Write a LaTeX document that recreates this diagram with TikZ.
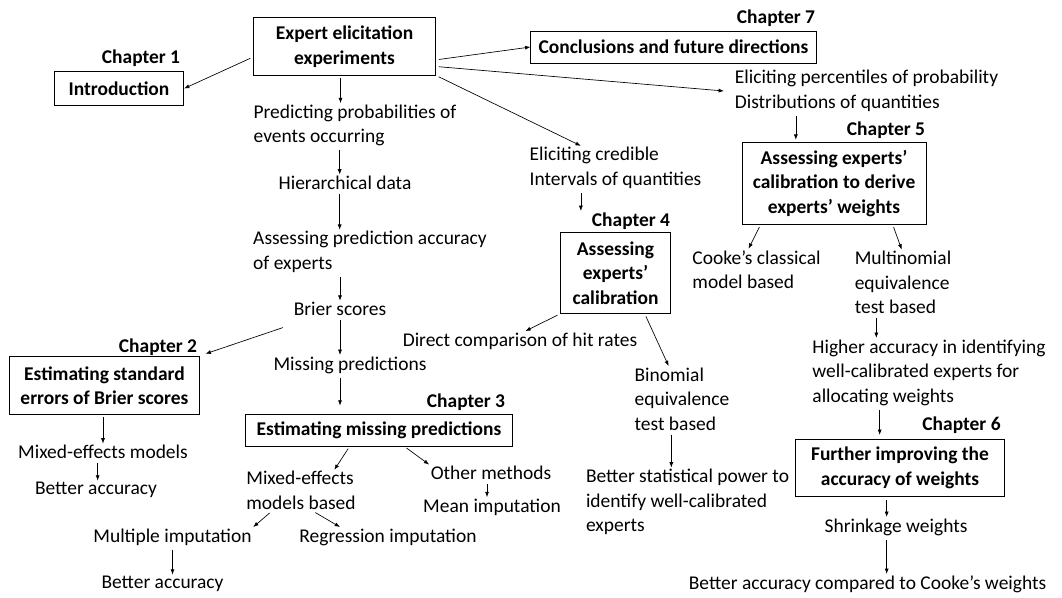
\documentclass[tikz,border=0pt]{standalone}
\usepackage{fontspec}
\setmainfont{Carlito}
\usepackage{tikz}
\usetikzlibrary{arrows.meta}

\tikzset{
  txt/.style={inner sep=1pt, align=left, font=\fontsize{14.6}{18.4}\selectfont},
  chap/.style={inner sep=1pt, font=\fontsize{14.6}{18.4}\selectfont\bfseries},
  box/.style={draw, line width=0.6pt, inner sep=2pt, align=center,
    font=\fontsize{14.6}{18.4}\selectfont\bfseries},
  arr/.style={-{Latex[length=4pt,width=3pt]}, line width=0.5pt, shorten <=2pt}
}

\begin{document}
\begin{tikzpicture}[x=0.75pt, y=-0.75pt]
\useasboundingbox (0,0) rectangle (1062,597);

% Top of the map
\node[box, minimum width=137pt, minimum height=43pt] (top) at (344.5,46.5) {Expert elicitation\\experiments};
\node[chap] (ch1) at (141,58) {Chapter 1};
\node[box, minimum width=97pt, minimum height=25pt] (intro) at (119,88.5) {Introduction};
\node[chap] (ch7) at (776,18) {Chapter 7};
\node[box, minimum width=214pt, minimum height=24pt] (concl) at (673.5,47) {Conclusions and future directions};

% Branch of probabilities
\node[txt] (pred) at (355,125.5) {Predicting probabilities of\\events occurring};
\node[txt] (hier) at (345,183) {Hierarchical data};
\node[txt] (acc) at (370,252) {Assessing prediction accuracy\\of experts};
\node[txt] (brier) at (340,309) {Brier scores};
\node[chap] (ch2) at (158,347) {Chapter 2};
\node[box, minimum width=143pt, minimum height=43pt] (sebox) at (104.5,385.5) {Estimating standard\\errors of Brier scores};
\node[txt] (mixed) at (103,452) {Mixed-effects models};
\node[txt] (better1) at (96,490) {Better accuracy};
\node[txt] (miss) at (350,365) {Missing predictions};
\node[chap] (ch3) at (466,402) {Chapter 3};
\node[box, minimum width=200pt, minimum height=24pt] (mbox) at (379,430) {Estimating missing predictions};
\node[txt] (mixb) at (301,490.5) {Mixed-effects\\models based};
\node[txt] (other) at (491,473) {Other methods};
\node[txt] (mean) at (492,507) {Mean imputation};
\node[txt] (multi) at (172.5,537) {Multiple imputation};
\node[txt] (regr) at (388,537) {Regression imputation};
\node[txt] (better2) at (162.5,584) {Better accuracy};

% Branch of credible intervals
\node[txt] (cred) at (615.5,168) {Eliciting credible\\Intervals of quantities};
\node[chap] (ch4) at (631,221) {Chapter 4};
\node[box, minimum width=83pt, minimum height=61pt] (cbox) at (615.5,273) {Assessing\\experts’\\calibration};
\node[txt] (direct) at (520,341) {Direct comparison of hit rates};
\node[txt] (binom) at (682,399) {Binomial\\equivalence\\test based};
\node[txt] (power) at (687.5,502) {Better statistical power to\\identify well-calibrated\\experts};

% Branch of percentiles
\node[txt] (pct) at (866.5,91) {Eliciting percentiles of probability\\Distributions of quantities};
\node[chap] (ch5) at (886,130) {Chapter 5};
\node[box, minimum width=138pt, minimum height=61pt] (wbox) at (834,183.5) {Assessing experts’\\calibration to derive\\experts’ weights};
\node[txt] (cooke) at (756.5,269.5) {Cooke’s classical\\model based};
\node[txt] (multin) at (903,282.5) {Multinomial\\equivalence\\test based};
\node[txt] (higher) at (929,372.5) {Higher accuracy in identifying\\well-calibrated experts for\\allocating weights};
\node[chap] (ch6) at (961.5,425) {Chapter 6};
\node[box, minimum width=157pt, minimum height=43pt] (fbox) at (900,468) {Further improving the\\accuracy of weights};
\node[txt] (shrink) at (896,527) {Shrinkage weights};
\node[txt] (better3) at (867.5,584) {Better accuracy compared to Cooke’s weights};

% Arrows from the top box
\draw[arr] ([yshift=-8pt]top.west) -- (intro.east);
\draw[arr] ([yshift=-10pt]top.east) -- (concl.west);
\draw[arr] ([yshift=-15pt]top.east) -- ([xshift=-7pt]pct.west);
\draw[arr] (top.south east) -- ([xshift=-26pt]cred.north);
\draw[arr] ([xshift=-3pt]top.south) -- ([xshift=-3pt]top.south |- pred.north);

% Arrows of the probabilities branch
\draw[arr] ([xshift=-4pt]pred.south -| hier) -- ([xshift=-4pt]hier.north);
\draw[arr] ([xshift=-4pt]hier.south) -- ([xshift=-4pt]hier.south |- acc.north);
\draw[arr] (acc.south -| brier) -- (brier.north);
\draw[arr] ([shift={(-5pt,-7pt)}]brier.south west) -- ([shift={(4pt,2pt)}]sebox.north east);
\draw[arr] (brier.south) -- (brier.south |- miss.north);
\draw[arr] (sebox.south -| mixed) -- (mixed.north);
\draw[arr] ([xshift=-4pt]mixed.south) -- ([xshift=-4pt]mixed.south |- better1.north);
\draw[arr, shorten >=6pt] (miss.south -| brier) -- (brier.south |- mbox.north);
\draw[arr] ([xshift=-22pt]mbox.south) -- ([xshift=25pt]mixb.north);
\draw[arr] ([xshift=19pt]mbox.south) -- (other.north west);
\draw[arr] ([xshift=-3pt]other.south) -- ([xshift=-3pt]other.south |- mean.north);
\draw[arr] ([xshift=-22pt]mixb.south) -- (multi.north east);
\draw[arr] ([xshift=9pt]mixb.south) -- ([xshift=-36pt]regr.north);
\draw[arr] (multi.south) -- (multi.south |- better2.north);

% Arrows of the credible intervals branch
\draw[arr] ([xshift=-26pt]cred.south) -- ([xshift=-26pt]cred.south |- ch4.north);
\draw[arr] (cbox.south west) -- ([xshift=4pt]direct.north);
\draw[arr] ([xshift=22pt]cbox.south) -- ([xshift=-10pt]binom.north);
\draw[arr] ([xshift=-8pt]binom.south) -- ([xshift=-8pt]binom.south |- power.north);

% Arrows of the percentiles branch
\draw[arr] ([xshift=-53pt]pct.south) -- ([xshift=-53pt,yshift=2pt]pct.south |- wbox.north);
\draw[arr] ([xshift=-55pt]wbox.south) -- ([xshift=-6pt]cooke.north);
\draw[arr] ([xshift=44pt]wbox.south) -- ([xshift=-1pt]multin.north);
\draw[arr] ([xshift=-20pt]multin.south) -- ([xshift=-20pt]multin.south |- higher.north);
\draw[arr] ([xshift=-37pt]higher.south) -- ([xshift=-37pt,yshift=3pt]higher.south |- fbox.north);
\draw[arr] ([xshift=-10pt]fbox.south) -- ([xshift=-10pt]fbox.south |- shrink.north);
\draw[arr] ([xshift=-7pt]shrink.south) -- ([xshift=-7pt]shrink.south |- better3.north);

\end{tikzpicture}
\end{document}
